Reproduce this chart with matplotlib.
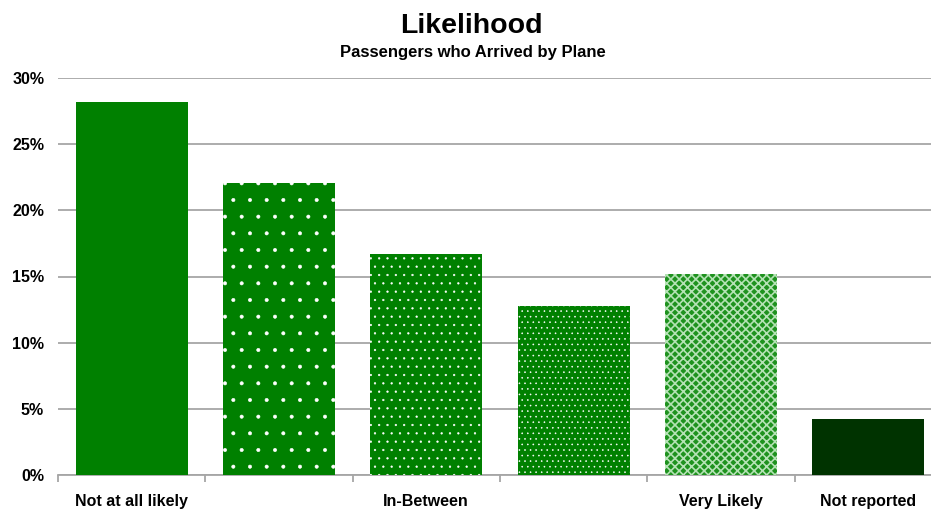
import matplotlib
matplotlib.use("Agg")
import matplotlib.pyplot as plt
import numpy as np

categories = ["Not at all likely", "", "In-Between", "", "Very Likely", "Not reported"]
values = [28.2, 22.1, 16.7, 12.8, 15.2, 4.2]
yticks = [0, 5, 10, 15, 20, 25, 30]
ytick_labels = ["0%", "5%", "10%", "15%", "20%", "25%", "30%"]

face_colors = ["#008000", "#008000", "#008000", "#008000", "#1f921f", "#003300"]
hatches = [None, ".", "..", "...", "xxxx", None]
hatch_colors = [None, "white", "white", "white", "#b5e2b5", None]
hatch_widths = [0.4, 0.4, 0.4, 0.4, 1.2, 0.4]

plt.rcParams["font.family"] = ["Liberation Sans", "DejaVu Sans"]

fig = plt.figure(figsize=(9.31, 5.14), dpi=100)
# one category slot is ~147 px wide; the last slot runs past the right edge
slot = 147.3
ax = fig.add_axes([58 / 931, 1 - 475 / 514, 6 * slot / 931, (475 - 78) / 514])

x = np.arange(len(values))
for i in range(len(values)):
    with plt.rc_context({"hatch.linewidth": hatch_widths[i]}):
        ax.bar(x[i], values[i], width=0.76, color=face_colors[i], hatch=hatches[i],
               edgecolor=hatch_colors[i] or face_colors[i], linewidth=0, zorder=3)

ax.set_xlim(-0.5, len(values) - 0.5)
ax.set_ylim(0, 30)
ax.set_yticks(yticks)
ax.set_yticklabels(ytick_labels, fontsize=11.5, fontweight="bold")
ax.yaxis.grid(True, color="#a6a6a6", linewidth=1.3, zorder=0)
ax.tick_params(axis="y", length=0, pad=10)

ax.set_xticks(x)
ax.set_xticklabels(categories, fontsize=11.5, fontweight="bold")
ax.tick_params(axis="x", which="major", length=0, pad=14)
ax.set_xticks(np.arange(-0.5, len(values), 1.0), minor=True)
ax.tick_params(axis="x", which="minor", length=5, color="#a6a6a6", width=1.3)

for side in ("top", "right", "left"):
    ax.spines[side].set_visible(False)
ax.spines["bottom"].set_color("#a6a6a6")
ax.spines["bottom"].set_linewidth(1.3)

fig.text(471 / 931, 1 - 33 / 514, "Likelihood", ha="center", va="baseline",
         fontsize=20.5, fontweight="bold")
fig.text(473 / 931, 1 - 57 / 514, "Passengers who Arrived by Plane", ha="center",
         va="baseline", fontsize=12, fontweight="bold")

fig.savefig("out.png", dpi=100)
